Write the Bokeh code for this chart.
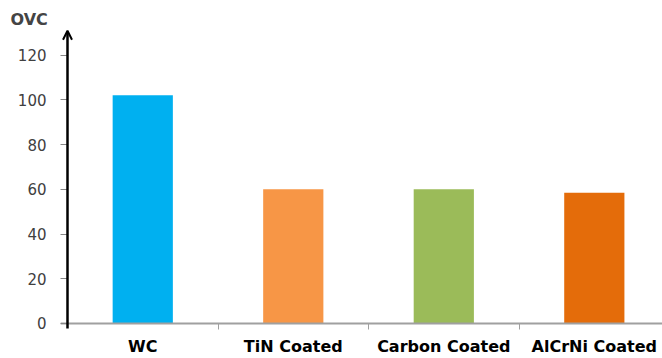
import numpy as np
from bokeh.plotting import figure
from bokeh.models import ColumnDataSource, FixedTicker, Range1d, Arrow, OpenHead
from bokeh.embed import file_html
from bokeh.resources import INLINE

# Overall voltage coefficient per tool coating
categories = ["WC", "TiN Coated", "Carbon Coated", "AlCrNi Coated"]
ovc_values = [102, 60, 60, 58.5]
bar_colors = ["#00B0F0", "#F79646", "#9BBB59", "#E46C0A"]
y_ticks = [0, 20, 40, 60, 80, 100, 120]

x_pos = np.arange(len(categories)) + 0.5
source = ColumnDataSource(dict(x=x_pos, top=ovc_values, color=bar_colors,
                               name=categories))

p = figure(width=662, height=358, output_backend="svg", toolbar_location=None,
           x_range=Range1d(-0.0465, 3.953), y_range=Range1d(-15.65, 131.9),
           min_border_left=60, min_border_right=0, min_border_top=28,
           min_border_bottom=0)
p.outline_line_color = None
p.grid.grid_line_color = None

p.title.text = "OVC"
p.title.align = "left"
p.title.offset = -50
p.title.text_font = "DejaVu Sans"
p.title.text_font_style = "bold"
p.title.text_font_size = "16px"
p.title.standoff = 0

p.vbar(x="x", top="top", width=0.4, color="color", line_color=None,
       source=source)

# x axis sits on value 0: category names under each bar, ticks between them
xa = p.xaxis[0]
xa.fixed_location = 0
xa.ticker = FixedTicker(ticks=list(x_pos),
                        minor_ticks=list(np.arange(1, len(categories))))
xa.major_label_overrides = {float(x): c for x, c in zip(x_pos, categories)}
xa.axis_line_color = "#A0A0A0"
xa.axis_line_width = 2
xa.major_tick_line_color = None
xa.major_tick_out = 6
xa.major_tick_in = 0
xa.minor_tick_line_color = "#A0A0A0"
xa.minor_tick_out = 6
xa.minor_tick_in = 0
xa.major_label_standoff = 8
xa.major_label_text_font = "DejaVu Sans"
xa.major_label_text_font_style = "bold"
xa.major_label_text_font_size = "16px"
xa.major_label_text_color = "black"

# y axis: labels and grey ticks; the black spine with its arrow is drawn at x=0
ya = p.yaxis[0]
ya.ticker = FixedTicker(ticks=y_ticks)
ya.axis_line_color = None
ya.major_tick_line_color = "#868686"
ya.major_tick_out = 0
ya.major_tick_in = 7
ya.minor_tick_line_color = None
ya.major_label_standoff = 14
ya.major_label_text_font = "DejaVu Sans"
ya.major_label_text_font_size = "15px"
ya.major_label_text_color = "#404040"

p.add_layout(Arrow(end=OpenHead(size=9, line_color="black", line_width=2),
                   x_start=0, y_start=-2.2, x_end=0, y_end=130.9,
                   line_color="black", line_width=2.5))

open("out.html", "w").write(file_html(p, INLINE))
